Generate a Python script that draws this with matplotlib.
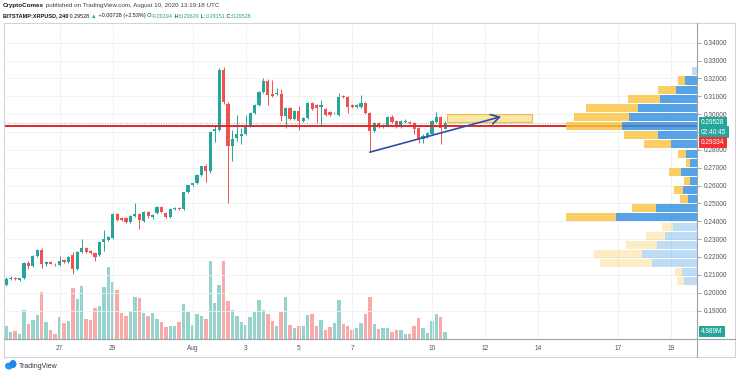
import numpy as np
import matplotlib
matplotlib.use('Agg')
import matplotlib.pyplot as plt
from matplotlib.patches import Rectangle, Ellipse
from matplotlib.transforms import blended_transform_factory
from matplotlib.lines import Line2D

plt.rcParams['font.family'] = ['Liberation Sans', 'DejaVu Sans']

# XRPUSD 4h candles, 25 Jul 00:00 -> 10 Aug 12:00 (UTC)
opens = [0.2043, 0.2075, 0.2080, 0.2072, 0.2082, 0.2166, 0.2149, 0.2205, 0.2238, 0.2160,
         0.2171, 0.2163, 0.2155, 0.2183, 0.2171, 0.2211, 0.2133, 0.2227, 0.2250, 0.2233,
         0.2222, 0.2211, 0.2283, 0.2294, 0.2305, 0.2439, 0.2417, 0.2417, 0.2395, 0.2428,
         0.2439, 0.2400, 0.2450, 0.2422, 0.2444, 0.2478, 0.2444, 0.2422, 0.2467, 0.2473,
         0.2467, 0.2562, 0.2601, 0.2612, 0.2657, 0.2712, 0.2679, 0.2908, 0.2913, 0.3248,
         0.3058, 0.2824, 0.2869, 0.2880, 0.2891, 0.2936, 0.3008, 0.3053, 0.3125, 0.3187,
         0.3114, 0.3114, 0.3114, 0.2991, 0.3036, 0.2975, 0.3019, 0.2963, 0.2980, 0.3064,
         0.3053, 0.3042, 0.3030, 0.3014, 0.3005, 0.2997, 0.3103, 0.3097, 0.3053, 0.3041,
         0.3041, 0.3064, 0.3008, 0.2908, 0.2952, 0.2930, 0.2941, 0.2986, 0.2963, 0.2930,
         0.2958, 0.2958, 0.2952, 0.2924, 0.2858, 0.2875, 0.2891, 0.2958, 0.2986, 0.29194]
closes = [0.2077, 0.2082, 0.2076, 0.2080, 0.2166, 0.2149, 0.2205, 0.2238, 0.2160, 0.2171,
          0.2163, 0.2158, 0.2177, 0.2171, 0.2200, 0.2133, 0.2227, 0.2250, 0.2227, 0.2222,
          0.2200, 0.2283, 0.2300, 0.2311, 0.2439, 0.2406, 0.2406, 0.2395, 0.2428, 0.2439,
          0.2406, 0.2450, 0.2428, 0.2433, 0.2478, 0.2450, 0.2422, 0.2467, 0.2473, 0.2467,
          0.2562, 0.2601, 0.2612, 0.2657, 0.2707, 0.2679, 0.2902, 0.2919, 0.3248, 0.3069,
          0.2824, 0.2863, 0.2891, 0.2886, 0.2936, 0.3008, 0.3053, 0.3125, 0.3187, 0.3108,
          0.3103, 0.3120, 0.2991, 0.3036, 0.2975, 0.3019, 0.2963, 0.2980, 0.3064, 0.3030,
          0.3036, 0.3053, 0.2997, 0.2997, 0.3008, 0.3097, 0.3097, 0.3041, 0.3041, 0.3053,
          0.3064, 0.3008, 0.2908, 0.2952, 0.2930, 0.2941, 0.2986, 0.2958, 0.2930, 0.2963,
          0.2964, 0.2952, 0.2919, 0.2863, 0.2880, 0.2897, 0.2963, 0.2986, 0.2920, 0.29528]
highs = [0.2088, 0.2095, 0.2086, 0.2085, 0.2170, 0.2177, 0.2210, 0.2242, 0.2250, 0.2176,
         0.2180, 0.2166, 0.2205, 0.2188, 0.2205, 0.2227, 0.2233, 0.2300, 0.2258, 0.2238,
         0.2227, 0.2289, 0.2350, 0.2317, 0.2445, 0.2447, 0.2422, 0.2422, 0.2433, 0.2501,
         0.2445, 0.2456, 0.2458, 0.2440, 0.2484, 0.2485, 0.2450, 0.2472, 0.2478, 0.2478,
         0.2565, 0.2605, 0.2617, 0.2662, 0.2712, 0.2718, 0.2908, 0.2936, 0.3259, 0.3265,
         0.3069, 0.2913, 0.2997, 0.2925, 0.2997, 0.3014, 0.3058, 0.3131, 0.3205, 0.3194,
         0.3192, 0.3147, 0.3142, 0.3042, 0.3042, 0.3025, 0.3043, 0.2986, 0.3069, 0.3070,
         0.3058, 0.3080, 0.3036, 0.3019, 0.3014, 0.3120, 0.3108, 0.3103, 0.3058, 0.3058,
         0.3108, 0.3069, 0.3014, 0.2958, 0.2958, 0.2947, 0.2991, 0.2997, 0.2968, 0.2969,
         0.2970, 0.2963, 0.2958, 0.2930, 0.2886, 0.2902, 0.2969, 0.3014, 0.2991, 0.29629]
lows = [0.2038, 0.2070, 0.2070, 0.2068, 0.2078, 0.2133, 0.2145, 0.2200, 0.2138, 0.2150,
        0.2158, 0.2152, 0.2149, 0.2166, 0.2166, 0.2105, 0.2127, 0.2222, 0.2222, 0.2216,
        0.2177, 0.2205, 0.2233, 0.2289, 0.2300, 0.2400, 0.2400, 0.2390, 0.2389, 0.2422,
        0.2356, 0.2395, 0.2420, 0.2411, 0.2439, 0.2445, 0.2416, 0.2416, 0.2462, 0.2462,
        0.2462, 0.2557, 0.2596, 0.2607, 0.2651, 0.2618, 0.2673, 0.2846, 0.2905, 0.3058,
        0.2501, 0.2735, 0.2848, 0.2830, 0.2885, 0.2930, 0.3002, 0.3047, 0.3120, 0.3049,
        0.3097, 0.3108, 0.2960, 0.2924, 0.2969, 0.2969, 0.2913, 0.2958, 0.2975, 0.3025,
        0.2952, 0.2941, 0.2991, 0.2991, 0.3000, 0.2991, 0.3092, 0.3008, 0.3036, 0.3036,
        0.3036, 0.3003, 0.2787, 0.2902, 0.2925, 0.2924, 0.2936, 0.2952, 0.2924, 0.2925,
        0.2952, 0.2947, 0.2887, 0.2841, 0.2841, 0.2869, 0.2886, 0.2952, 0.2835, 0.29151]
# volume in millions
volumes = [9.1, 4.5, 5.4, 3.6, 19.5, 10.0, 12.7, 16.3, 31.7, 11.8,
           5.9, 3.6, 15.0, 10.9, 12.2, 34.5, 27.2, 35.8, 13.6, 13.1,
           20.9, 22.2, 35.4, 49.0, 38.5, 33.1, 17.7, 15.9, 19.0, 28.6,
           27.7, 17.7, 15.9, 17.7, 13.6, 11.3, 8.2, 8.6, 8.6, 11.8,
           24.0, 18.6, 9.5, 16.8, 15.9, 13.6, 53.0, 24.5, 36.7, 53.0,
           25.8, 19.9, 15.9, 11.8, 9.5, 15.0, 18.6, 26.7, 19.9, 17.2,
           12.2, 8.6, 18.6, 28.6, 9.5, 7.7, 9.1, 8.6, 16.3, 17.2,
           9.1, 13.1, 5.9, 8.2, 10.9, 26.7, 10.4, 9.1, 5.9, 7.3,
           10.9, 17.2, 28.6, 10.4, 6.8, 7.3, 7.3, 4.5, 5.9, 5.9,
           3.6, 3.2, 8.6, 14.1, 7.7, 4.1, 12.2, 16.8, 15.0, 4.989]

# visible range volume profile, rows from top to bottom (relative units)
vp_up = [16, 36, 62, 112, 176, 204, 224, 118, 78, 32, 22, 48, 20, 42, 26, 122, 244, 72, 96, 120, 166, 136, 44, 40]
vp_down = [0, 20, 56, 94, 156, 164, 170, 102, 80, 26, 12, 36, 20, 28, 26, 74, 148, 32, 56, 94, 144, 154, 22, 20]
va_low, va_high = 0.2398, 0.3214

level = 0.29334
last_price = 0.29528
target_zone = (9.56, 12.75, 0.2954, 0.3001)   # days from 1 Aug, price lo/hi
arrow_end = (11.6, 0.2986)
arrow_from = 82

xticks = [-5, -3, 0, 2, 4, 6, 9, 11, 13, 16, 18]
xlabels = ['27', '29', 'Aug', '3', '5', '7', '10', '12', '14', '17', '19']

GREEN, RED = '#26a69a', '#ef5350'
VGREEN, VRED = '#96d3cc', '#f7aaa8'
BLUE, YEL = '#2c8ee2', '#fbc23d'
TXT = '#50535e'
FS = 4.7

opens, closes = np.array(opens), np.array(closes)
highs, lows = np.array(highs), np.array(lows)
t = -7 + np.arange(len(opens)) / 6.0

W, H = 736, 376
fig = plt.figure(figsize=(W / 100, H / 100), dpi=100)

def fx(x): return x / W
def fy(y): return 1 - y / H

rect = [fx(5), fy(339), fx(697) - fx(5), fy(24) - fy(339)]
vax = fig.add_axes(rect, label='vol')
ax = fig.add_axes(rect, label='price')
ax.patch.set_visible(False)

xl = (-7.049, 18.966)
vax.set_xlim(*xl)
vax.set_ylim(0, 214)
vax.axis('off')
up = closes >= opens
vax.bar(t, volumes, width=0.13, color=np.where(up, VGREEN, VRED), linewidth=0)

ax.set_xlim(*xl)
ax.set_ylim(0.17407, 0.35047)
for s in ax.spines.values():
    s.set_visible(False)
ax.grid(True, color='#eef0f4', lw=0.6)
ax.set_axisbelow(True)

col = np.where(up, GREEN, RED)
ax.vlines(t, lows, highs, colors=col, lw=0.7, zorder=3)
body_lo = np.minimum(opens, closes)
body_h = np.maximum(np.abs(closes - opens), 0.0004)
ax.bar(t, body_h, bottom=body_lo, width=0.12, color=col, linewidth=0, zorder=4)

ax.axhline(last_price, color='#7fbfb8', lw=0.7, ls=(0, (1, 1.5)), zorder=2)
ax.axhline(level, color='#e3262a', lw=1.4, zorder=4)

# volume profile on the right
lo, hi = lows.min(), highs.max()
edges = np.linspace(lo, hi, len(vp_up) + 1)
rh = edges[1] - edges[0]
up_r = np.array(vp_up[::-1], float)
dn_r = np.array(vp_down[::-1], float)
scale = 0.19 / (up_r + dn_r).max()
tr = blended_transform_factory(ax.transAxes, ax.transData)
for i in range(len(up_r)):
    mid = edges[i] + rh / 2
    a = 0.8 if va_low < mid < va_high else 0.3
    wb, wy = up_r[i] * scale, dn_r[i] * scale
    y0 = edges[i] + rh * 0.06
    ax.add_patch(Rectangle((1 - wb, y0), wb, rh * 0.88, transform=tr, fc=BLUE, alpha=a, lw=0, zorder=5))
    ax.add_patch(Rectangle((1 - wb - wy, y0), wy, rh * 0.88, transform=tr, fc=YEL, alpha=a, lw=0, zorder=5))

# drawings
z0, z1, p0, p1 = target_zone
ax.add_patch(Rectangle((z0, p0), z1 - z0, p1 - p0, fc='#fbe7a6', ec='#e8bb4a', lw=0.8, zorder=3))
ax.annotate('', xy=arrow_end, xytext=(t[arrow_from], lows[arrow_from]),
            arrowprops=dict(arrowstyle='->,head_length=0.6,head_width=0.35', color='#2f4fa2',
                            lw=1.2, shrinkA=0, shrinkB=0), zorder=6)

# axes ticks (0.29 sits under the price tags)
yt = np.round(np.arange(0.19, 0.3401, 0.01), 2)
ax.yaxis.tick_right()
ax.set_yticks(yt, ['' if v == 0.29 else f'{v:.5f}' for v in yt])
ax.tick_params(axis='y', length=3, width=0.6, color='#9598a1', labelsize=FS, labelcolor=TXT, pad=2)
ax.set_xticks(xticks, xlabels)
ax.tick_params(axis='x', length=0, labelsize=FS, labelcolor=TXT, pad=4.5)

def tag(axis, y, s, fc, dy=0):
    axis.annotate(s, xy=(1, y), xycoords=axis.get_yaxis_transform(), xytext=(3, dy),
                  textcoords='offset points', ha='left', va='center', fontsize=FS, color='white',
                  bbox=dict(boxstyle='square,pad=0.35', fc=fc, ec='none'), zorder=10,
                  annotation_clip=False)

tag(ax, last_price, f'{last_price:.5f}', GREEN)
tag(ax, last_price, '02:40:45', GREEN, dy=-6.9)
tag(ax, last_price, f'{level:.5f}', '#f23232', dy=-14.5)
tag(vax, volumes[-1], f'{volumes[-1]:.3f}M', GREEN)

# frame
def fline(x0, y0, x1, y1, c='#d1d4dc', lw=0.8):
    fig.add_artist(Line2D([fx(x0), fx(x1)], [fy(y0), fy(y1)], transform=fig.transFigure, color=c, lw=lw))

fline(4, 23, 735, 23)
fline(4, 23, 4, 357)
fline(735, 23, 735, 357)
fline(4, 357, 735, 357)
fline(697, 23, 697, 357, c='#9ea2ab')
fline(4, 339, 735, 339, c='#9ea2ab')

# header
r = fig.canvas.get_renderer()
def chain(x, y, parts, size):
    for s, c, w in parts:
        tx = fig.text(fx(x), fy(y), s, color=c, fontweight=w, fontsize=size, ha='left', va='center')
        x += tx.get_window_extent(r).width

dark = '#131722'
chain(3, 6, [('CryptoComes', dark, 'bold'),
             (' published on TradingView.com, August 10, 2020 13:19:18 UTC', '#3c3f48', 'normal')], 4.5)
chain(3, 16, [('BITSTAMP:XRPUSD, 240', dark, 'bold'), (' 0.29528 ', dark, 'normal'),
              ('\u25b2', GREEN, 'normal'), (' +0.00728 (+2.53%) O:', dark, 'normal'),
              ('0.29194', GREEN, 'normal'), (' H:', dark, 'normal'), ('0.29629', GREEN, 'normal'),
              (' L:', dark, 'normal'), ('0.29151', GREEN, 'normal'), (' C:', dark, 'normal'),
              ('0.29528', GREEN, 'normal')], 4.0)

# footer logo
fig.add_artist(Ellipse((fx(9), fy(366)), fx(8), 7 / H, fc='#2196f3', transform=fig.transFigure))
fig.add_artist(Ellipse((fx(13), fy(364)), fx(7), 8 / H, fc='#1e88e5', transform=fig.transFigure))
fig.text(fx(19), fy(366), 'TradingView', fontsize=5.0, color='#333640', ha='left', va='center')

fig.savefig('out.png', dpi=100)
